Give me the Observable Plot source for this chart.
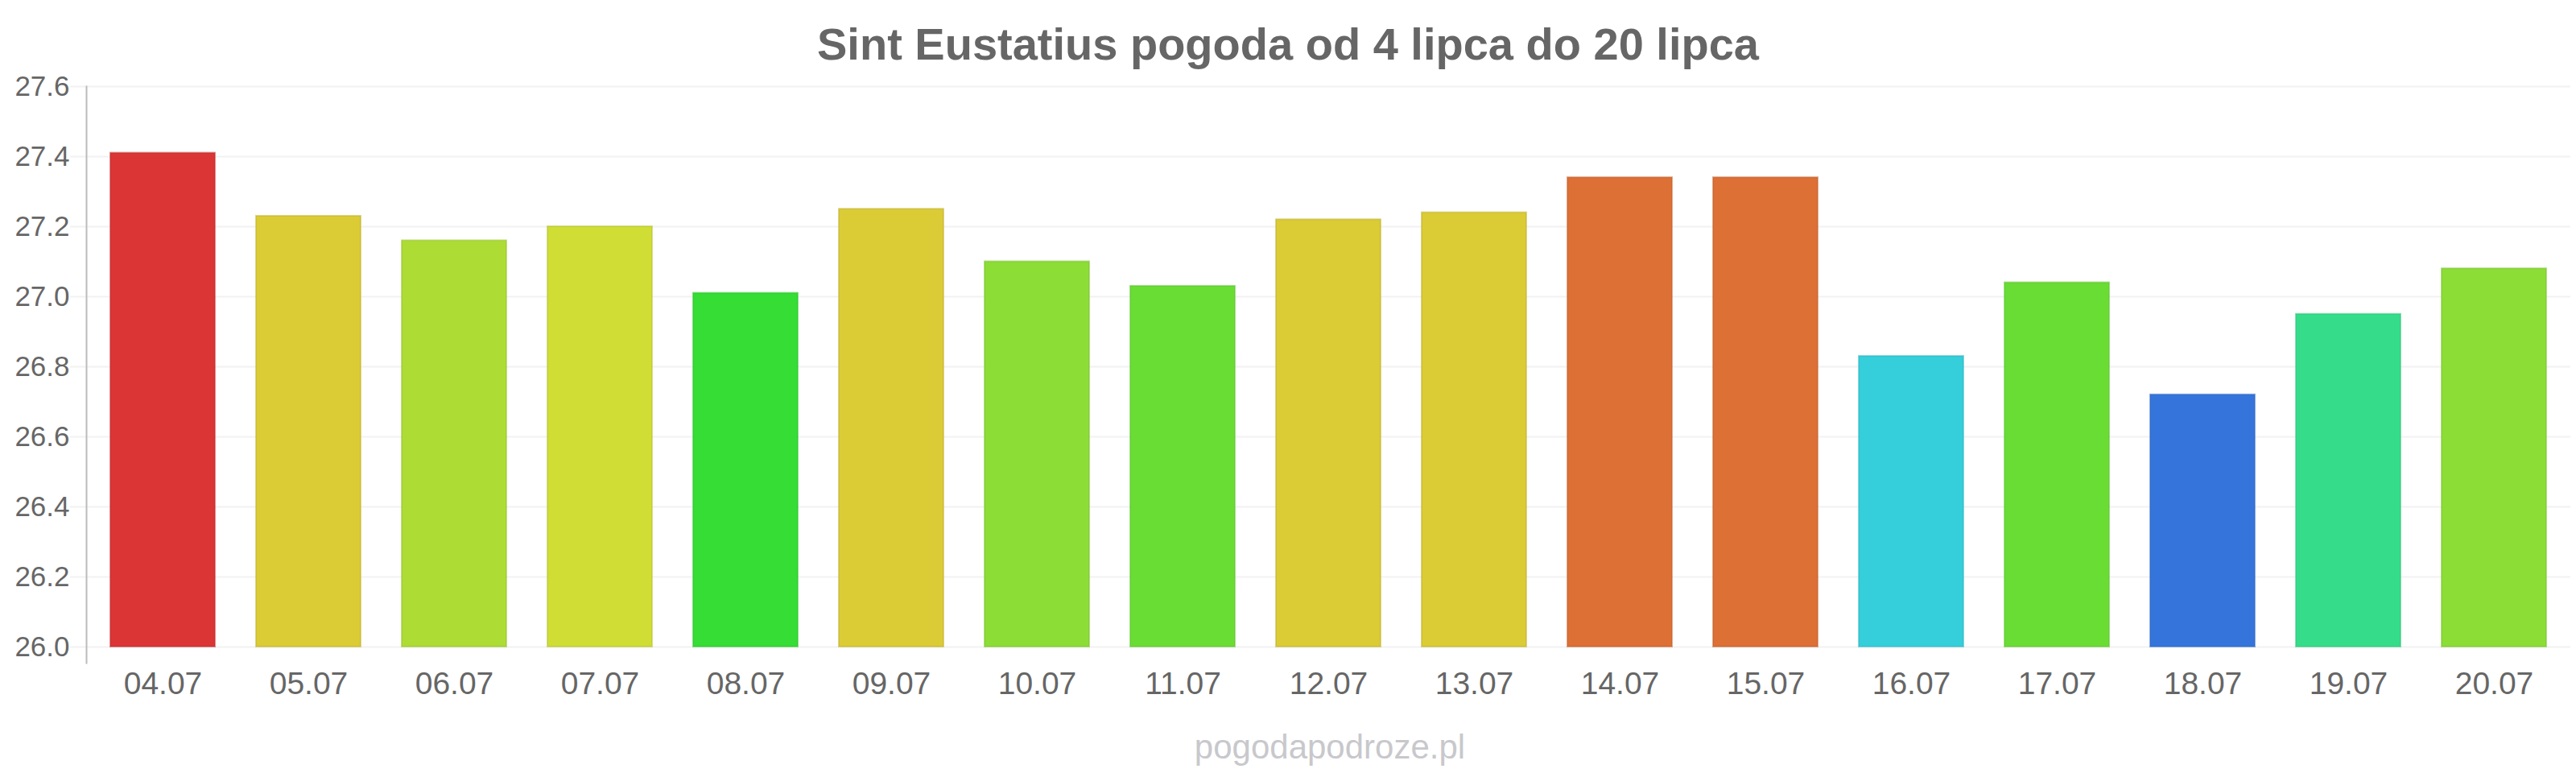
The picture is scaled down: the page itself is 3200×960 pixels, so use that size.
<!DOCTYPE html>
<html>
<head>
<meta charset="utf-8">
<script src="https://cdn.jsdelivr.net/npm/d3@7"></script>
<script src="https://cdn.jsdelivr.net/npm/@observablehq/plot@0.6"></script>
<style>
  html, body { margin: 0; padding: 0; background: #fff; }
  body { width: 3200px; height: 960px; overflow: hidden; font-family: "Liberation Sans", Arial, sans-serif; }
  #title { height: 48px; padding-top: 27px; text-align: center; font-size: 56px; line-height: 56px; font-weight: bold; color: #666666; white-space: nowrap; }
  #chart { height: 820px; }
  #chart svg { display: block; }
  #footer { height: 53px; padding-top: 12px; padding-left: 104px; text-align: center; font-size: 42px; line-height: 41px; color: #c8c8cc; }
</style>
</head>
<body>
<div id="title">Sint Eustatius pogoda od 4 lipca do 20 lipca</div>
<div id="chart"></div>
<div id="footer">pogodapodroze.pl</div>
<script>
const dates = ["04.07","05.07","06.07","07.07","08.07","09.07","10.07","11.07","12.07","13.07","14.07","15.07","16.07","17.07","18.07","19.07","20.07"];
const temps = [27.41, 27.23, 27.16, 27.20, 27.01, 27.25, 27.10, 27.03, 27.22, 27.24, 27.34, 27.34, 26.83, 27.04, 26.72, 26.95, 27.08];
const barColors = ["#db3535","#dbcb35","#addc35","#cfdd35","#35dd35","#dbcb35","#8cdd35","#6add35","#dbcb35","#dbcb35","#dc7035","#dc7035","#35cedb","#6add35","#3575db","#35dd8a","#8cdd35"];
const yTicks = [26.0, 26.2, 26.4, 26.6, 26.8, 27.0, 27.2, 27.4, 27.6];

const data = dates.map((d, i) => ({date: d, temp: temps[i], color: barColors[i]}));

const chart = Plot.plot({
  width: 3200,
  height: 820,
  marginTop: 32,
  marginBottom: 92,
  marginLeft: 107,
  marginRight: 7,
  style: {fontFamily: '"Liberation Sans", Arial, sans-serif', color: "#666666", background: "#ffffff"},
  x: {domain: dates, paddingInner: 0.284, paddingOuter: 0.142, label: null},
  y: {domain: [26, 27.6], label: null},
  marks: [
    Plot.ruleY(yTicks, {stroke: "#f2f2f2", strokeWidth: 2, insetLeft: -20}),
    Plot.barY(data, {
      x: "date",
      y1: 26,
      y2: "temp",
      fill: d => d.color,
      stroke: d => d3.color(d.color).darker(0.35).formatHex(),
      strokeWidth: 2,
      strokeOpacity: 0.55
    }),
    Plot.frame({anchor: "left", stroke: "#bbbbbb", strokeWidth: 2, insetBottom: -20}),
    Plot.axisY({ticks: yTicks, tickSize: 0, tickPadding: 21, tickFormat: d3.format(".1f"), fontSize: 35, fill: "#666666"}),
    Plot.axisX({tickSize: 0, tickPadding: 31, fontSize: 39, fill: "#666666"})
  ]
});
document.getElementById("chart").appendChild(chart);
</script>
</body>
</html>
